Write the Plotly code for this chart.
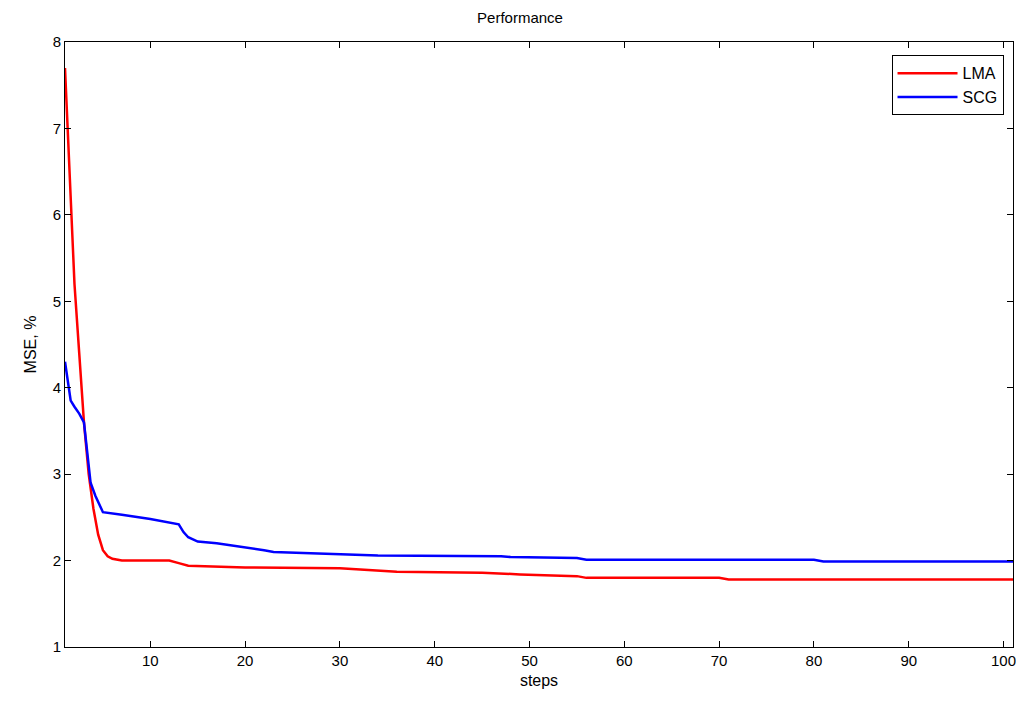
import plotly.graph_objects as go

lma_x = [1, 1.2, 1.5, 2, 2.5, 3, 3.5, 4, 4.5, 5, 5.5, 6, 7, 12, 13, 14, 20, 30, 33, 36, 45, 49, 55, 56, 70, 71, 101]
lma_y = [7.7, 7.2, 6.3, 5.2, 4.4, 3.6, 3.0, 2.6, 2.3, 2.12, 2.05, 2.02, 2.0, 2.0, 1.97, 1.94, 1.92, 1.91, 1.89, 1.87, 1.86, 1.84, 1.82, 1.80, 1.80, 1.78, 1.78]

scg_x = [1, 1.3, 1.6, 2, 2.5, 3, 3.4, 3.7, 4.2, 4.8, 5, 7, 10, 13, 13.5, 14, 15, 17, 19, 20, 22, 23, 30, 34, 47, 48, 55, 56, 80, 81, 101]
scg_y = [4.3, 4.1, 3.85, 3.78, 3.7, 3.6, 3.2, 2.9, 2.75, 2.6, 2.56, 2.53, 2.48, 2.42, 2.33, 2.27, 2.22, 2.2, 2.17, 2.15, 2.12, 2.1, 2.08, 2.06, 2.05, 2.04, 2.03, 2.01, 2.01, 1.99, 1.99]

fig = go.Figure()
fig.add_trace(go.Scatter(x=lma_x, y=lma_y, mode='lines', name='LMA', line=dict(color='#ff0000', width=2.5)))
fig.add_trace(go.Scatter(x=scg_x, y=scg_y, mode='lines', name='SCG', line=dict(color='#0000ff', width=2.5)))

axis_style = dict(showline=True, mirror='ticks', linecolor='black', linewidth=1, ticks='inside',
                  ticklen=6, tickcolor='black', showgrid=False, zeroline=False,
                  tickfont=dict(size=15, color='black'))

fig.update_layout(
    width=1024, height=714,
    font=dict(family='Arial, Liberation Sans', color='black'),
    paper_bgcolor='white', plot_bgcolor='white',
    margin=dict(l=57, r=19, t=34, b=75),
    title=dict(text='Performance', x=0.5, xanchor='center', y=0.987, yanchor='middle', font=dict(size=15)),
    xaxis=dict(range=[1, 101], tickvals=[10, 20, 30, 40, 50, 60, 70, 80, 90, 100],
               title=dict(text='steps', font=dict(size=16), standoff=6), **axis_style),
    yaxis=dict(range=[1, 8], dtick=1, title=dict(text='MSE, %', font=dict(size=16), standoff=12), **axis_style),
    legend=dict(x=0.99, xanchor='right', y=0.978, yanchor='top', bgcolor='white',
                bordercolor='black', borderwidth=1, font=dict(size=16),
                itemwidth=60),
)

fig.write_html('out.html')
